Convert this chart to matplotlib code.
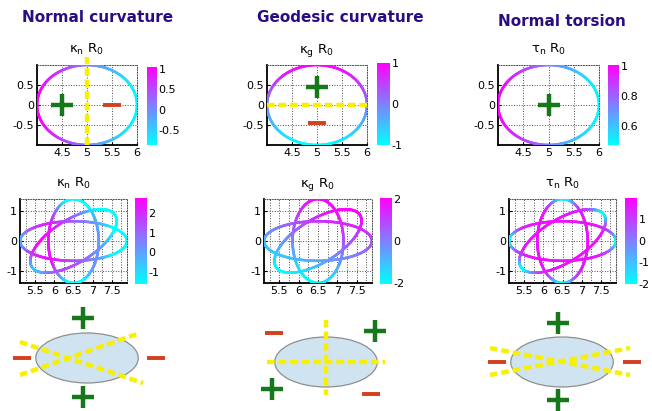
import numpy as np
import matplotlib
matplotlib.use('Agg')
import matplotlib.pyplot as plt
from matplotlib.collections import LineCollection
from matplotlib.colors import Normalize
from matplotlib.patches import Ellipse

plt.rcParams['mathtext.default'] = 'regular'

# ---- data ----
titles = ['Normal curvature', 'Geodesic curvature', 'Normal torsion']
labels = [r'$\kappa_n\ R_0$', r'$\kappa_g\ R_0$', r'$\tau_n\ R_0$']

# top row: circular cross-section
tok_center = (5.0, 0.0)
tok_radius = 1.0
tok_xticks = [4.5, 5, 5.5, 6]
tok_yticks = [-0.5, 0, 0.5]
tok_clim = [(-0.86, 1.04), (-1.0, 1.0), (0.47, 1.01)]
tok_cbticks = [[-0.5, 0, 0.5, 1], [-1, 0, 1], [0.6, 0.8, 1]]
# colour value along circle: c0 + cc*cos(theta) + cs*sin(theta)
tok_coef = [(0.1, -0.95, 0.0), (0.0, 0.0, 1.0), (0.74, -0.27, 0.0)]
tok_plus = [[(4.5, 0.0)], [(5.0, 0.45)], [(5.0, 0.0)]]
tok_minus = [[(5.5, 0.0)], [(5.0, -0.45)], []]
tok_dash = [((5.0, 5.0), (-1.0, 1.2)), ((4.0, 6.0), (0.0, 0.0)), None]

# middle row: rotating elliptical cross-sections
stel_center = (6.5, 0.0)
stel_semi = (1.4, 0.66)
stel_angles = [0, 42, 90]
stel_xticks = [5.5, 6, 6.5, 7, 7.5]
stel_xminor = [5.25, 5.75, 6.25, 6.75, 7.25, 7.75]
stel_yticks = [-1, 0, 1]
stel_clim = [(-1.64, 2.78), (-2.05, 2.05), (-2.0, 1.98)]
stel_cbticks = [[-1, 0, 1, 2], [-2, 0, 2], [-2, -1, 0, 1]]
# colour value: side + (tip-side)*|cos(t)|^p + gx*dx + gy*dy
stel_side = [1.3, 0.3, 1.7]
stel_tip = [-2.8, 0.0, -2.0]
stel_pow = [4, 2, 8]
stel_gx = [-1.8, 0.6, 0.0]
stel_gy = [-0.3, 1.45, 0.0]

# bottom row: schematics (ellipse units)
sk_size = (4.1, 2.0)
sk_plus = [[(-0.16, 1.6), (-0.16, -1.56)],
           [(1.96, 1.24), (-2.16, -1.08)],
           [(-0.16, 1.56), (-0.16, -1.52)]]
sk_minus = [[(-2.6, 0), (2.76, 0)],
            [(-2.08, 1.16), (1.8, -1.28)],
            [(-2.6, 0), (2.8, 0)]]
sk_lines = [[((-2.68, 2.24), (0.64, -1.0)), ((-2.68, 2.12), (-0.68, 1.0))],
            [((-2.36, 2.36), (0, 0)), ((0, 0), (1.68, -1.32))],
            [((-2.88, 2.72), (0.56, -0.52)), ((-2.88, 2.72), (-0.52, 0.56))]]

W, H = 652, 411
GREEN = '#16781a'
RED = '#d2401c'
YELLOW = '#f8f000'
NAVY = '#2a0d85'

fig = plt.figure(figsize=(W / 100, H / 100), dpi=100)


def box(l, t, r, b):
    return [l / W, 1 - b / H, (r - l) / W, (b - t) / H]


def curve(ax, x, y, v, clim):
    pts = np.column_stack([x, y]).reshape(-1, 1, 2)
    segs = np.concatenate([pts[:-1], pts[1:]], axis=1)
    lc = LineCollection(segs, cmap='cool', norm=Normalize(*clim),
                        linewidth=1.9, capstyle='round', zorder=3)
    lc.set_array((v[:-1] + v[1:]) / 2)
    ax.add_collection(lc)
    return lc


def style(ax, xlim, ylim, xt, yt, xminor=None):
    ax.set_xlim(xlim)
    ax.set_ylim(ylim)
    ax.set_xticks(xt)
    ax.set_yticks(yt)
    ax.set_xticklabels(['%g' % t for t in xt])
    ax.set_yticklabels(['%g' % t for t in yt])
    if xminor:
        ax.set_xticks(xminor, minor=True)
        ax.grid(True, which='minor', axis='x', ls=':', lw=0.7, color='0.3')
    ax.grid(True, which='major', ls=':', lw=0.7, color='0.3')
    ax.set_axisbelow(True)
    for s in ['top', 'right']:
        ax.spines[s].set_linestyle(':')
        ax.spines[s].set_linewidth(0.7)
        ax.spines[s].set_color('0.3')
    for s in ['left', 'bottom']:
        ax.spines[s].set_linewidth(1.3)
    ax.tick_params(which='both', direction='in', length=2, labelsize=8, pad=2)
    ax.tick_params(which='minor', length=0)


def cbar(lc, rect, ticks):
    cax = fig.add_axes(rect)
    cb = fig.colorbar(lc, cax=cax)
    cb.outline.set_visible(False)
    cb.set_ticks(ticks)
    cb.set_ticklabels(['%g' % t for t in ticks])
    cax.tick_params(length=0, labelsize=8, pad=1)


tok_boxes = [(37, 65, 137, 145), (267, 65, 367, 145), (498, 65, 599, 145)]
tok_cboxes = [(147, 67, 157, 145), (377, 63, 390, 145), (608, 65, 619, 145)]
title_pos = [(98, 17), (340, 17), (562, 21)]

th = np.linspace(0, 2 * np.pi, 361)
for i in range(3):
    ax = fig.add_axes(box(*tok_boxes[i]))
    x = tok_center[0] + tok_radius * np.cos(th)
    y = tok_center[1] + tok_radius * np.sin(th)
    c0, cc, cs = tok_coef[i]
    lc = curve(ax, x, y, c0 + cc * np.cos(th) + cs * np.sin(th), tok_clim[i])
    style(ax, (4, 6), (-1, 1), tok_xticks, tok_yticks)
    ax.set_title(labels[i], fontsize=9.5, pad=9)
    if tok_dash[i] is not None:
        ax.plot(*tok_dash[i], color=YELLOW, lw=3.2, dashes=(1.7, 0.9),
                clip_on=False, zorder=4)
    for px, py in tok_plus[i]:
        ax.plot(px, py, marker='+', ms=16, mew=3.2, color=GREEN, zorder=5)
    for px, py in tok_minus[i]:
        ax.plot(px, py, marker='_', ms=13, mew=2.8, color=RED, zorder=5)
    cbar(lc, box(*tok_cboxes[i]), tok_cbticks[i])
    fig.text(title_pos[i][0] / W, 1 - title_pos[i][1] / H, titles[i],
             ha='center', va='center', fontsize=11, fontweight='bold',
             color=NAVY)

stel_boxes = [(20, 199, 127, 283), (264, 199, 372, 283), (509, 199, 616, 283)]
stel_cboxes = [(135, 198, 147, 284), (380, 198, 392, 284), (625, 198, 637, 284)]
a, b = stel_semi
for i in range(3):
    ax = fig.add_axes(box(*stel_boxes[i]))
    for ang in stel_angles:
        r = np.deg2rad(ang)
        dx = a * np.cos(th) * np.cos(r) - b * np.sin(th) * np.sin(r)
        dy = a * np.cos(th) * np.sin(r) + b * np.sin(th) * np.cos(r)
        v = (stel_side[i] + (stel_tip[i] - stel_side[i]) * np.abs(np.cos(th)) ** stel_pow[i]
             + stel_gx[i] * dx + stel_gy[i] * dy)
        lc = curve(ax, stel_center[0] + dx, stel_center[1] + dy, v, stel_clim[i])
    style(ax, (5.1, 7.9), (-1.4, 1.4), stel_xticks, stel_yticks, stel_xminor)
    ax.set_title(labels[i], fontsize=9.5, pad=9)
    cbar(lc, box(*stel_cboxes[i]), stel_cbticks[i])

sk_boxes = [((0, 300, 175, 411), (87, 358)),
            ((220, 300, 435, 411), (326, 362)),
            ((440, 300, 652, 411), (562, 362))]
u = 25.0
for i in range(3):
    (l, t, r_, bt), (cx, cy) = sk_boxes[i]
    ax = fig.add_axes(box(l, t, r_, bt))
    ax.set_xlim((l - cx) / u, (r_ - cx) / u)
    ax.set_ylim((cy - bt) / u, (cy - t) / u)
    ax.axis('off')
    ax.add_patch(Ellipse((0, 0), sk_size[0], sk_size[1], facecolor='#cfe3f0',
                         edgecolor='#8f8f8f', lw=0.9, zorder=1))
    for xs, ys in sk_lines[i]:
        ax.plot(xs, ys, color=YELLOW, lw=3.2, dashes=(1.7, 0.9), zorder=2)
    for px, py in sk_plus[i]:
        ax.plot(px, py, marker='+', ms=16, mew=3.2, color=GREEN, zorder=3)
    for px, py in sk_minus[i]:
        ax.plot(px, py, marker='_', ms=13, mew=2.8, color=RED, zorder=3)

fig.savefig('out.png', dpi=100)
